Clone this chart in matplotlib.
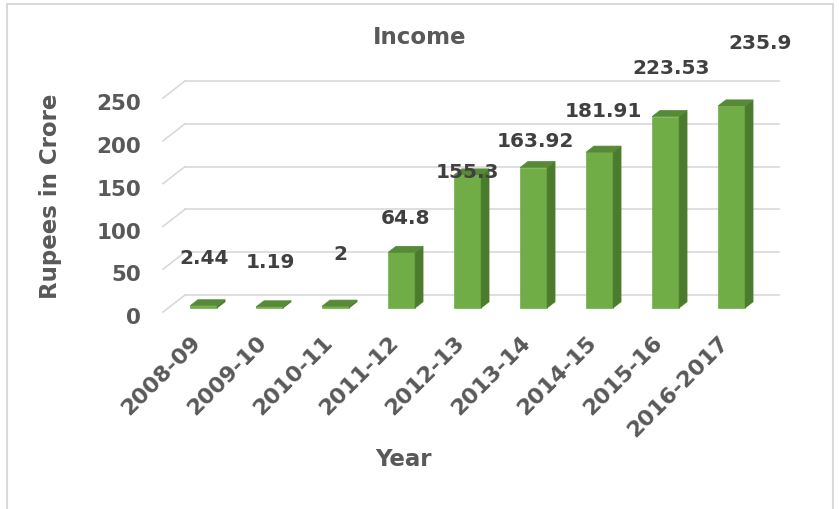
import matplotlib
matplotlib.use("Agg")
import matplotlib.pyplot as plt
from matplotlib.patches import Polygon, Rectangle

# =====================================================
# DATA
# =====================================================

years = [
    "2008-09", "2009-10", "2010-11", "2011-12", "2012-13",
    "2013-14", "2014-15", "2015-16", "2016-2017"
]
income = [2.44, 1.19, 2, 64.8, 155.3, 163.92, 181.91, 223.53, 235.9]
label_text = ["2.44", "1.19", "2", "64.8", "155.3", "163.92", "181.91", "223.53", "235.9"]
y_ticks = [0, 50, 100, 150, 200, 250]

# label placement (offsets from bar top, x in categories, y in value units)
label_dx = [0.13, 0.13, 0.19, 0.17, 0.11, 0.14, 0.17, 0.2, 0.55]
label_dy = [61, 58, 66, 46, 9, 36, 53, 62, 79]

# =====================================================
# STYLE
# =====================================================

TEXT = "#595959"
GRID = "#d9d9d9"
FRONT = "#70ad47"
SIDE = "#4b7b2d"
TOP = "#568a36"

BAR_W = 0.41
DEPTH_X = 22 / 66      # full floor depth in category units
DEPTH_Y = 17 / 0.856   # full floor depth in value units
D0, D1 = 0.24, 0.60    # bar depth start / end as a fraction of floor depth

plt.rcParams["font.family"] = ["DejaVu Sans"]
plt.rcParams["font.weight"] = "bold"

fig = plt.figure(figsize=(8.39, 5.10), dpi=100)
ax = fig.add_axes([163 / 839, (510 - 313) / 510, 594 / 839, 214 / 510])
ax.set_xlim(-0.5, len(years) - 0.5)
ax.set_ylim(0, 250)
ax.axis("off")

# outer chart border
fig.patches.append(Rectangle(
    (7 / 839, -0.05), 826 / 839, 0.05 + 505 / 510,
    transform=fig.transFigure, fill=False, edgecolor=GRID, linewidth=1.5
))

# =====================================================
# GRIDLINES (back wall + left wall diagonals)
# =====================================================

x0, x1 = -0.5, len(years) - 0.5
for v in y_ticks:
    ax.plot([x0 + DEPTH_X, x1 + DEPTH_X], [v + DEPTH_Y, v + DEPTH_Y],
            color=GRID, linewidth=1.2, clip_on=False, zorder=1)
    ax.plot([x0, x0 + DEPTH_X], [v, v + DEPTH_Y],
            color=GRID, linewidth=1.2, clip_on=False, zorder=1)
    ax.text(x0 - 0.33, v - 6, str(v), ha="right", va="center",
            fontsize=15.5, color=TEXT, fontweight="bold")

# =====================================================
# 3D-LOOKING BARS
# =====================================================

for i, v in enumerate(income):
    fx = DEPTH_X * D0
    fy = DEPTH_Y * D0
    bx = DEPTH_X * D1
    by = DEPTH_Y * D1
    left = i - BAR_W / 2 + fx + 0.035
    right = left + BAR_W

    front = Polygon([(left, fy), (right, fy), (right, v + fy), (left, v + fy)],
                    closed=True, facecolor=FRONT, edgecolor=FRONT,
                    linewidth=0.5, clip_on=False, zorder=3)
    side = Polygon([(right, fy), (right + bx - fx, by),
                    (right + bx - fx, v + by), (right, v + fy)],
                   closed=True, facecolor=SIDE, edgecolor=SIDE,
                   linewidth=0.5, clip_on=False, zorder=3)
    top = Polygon([(left, v + fy), (right, v + fy),
                   (right + bx - fx, v + by), (left + bx - fx, v + by)],
                  closed=True, facecolor=TOP, edgecolor=TOP,
                  linewidth=0.5, clip_on=False, zorder=4)
    ax.add_patch(front)
    ax.add_patch(side)
    ax.add_patch(top)

    ax.text(i + label_dx[i], v + label_dy[i], label_text[i],
            ha="center", va="center", fontsize=14.5, color="#404040",
            fontweight="bold", zorder=5)

    ax.text(i + 0.02, -31, years[i], rotation=45, rotation_mode="anchor",
            ha="right", va="center", fontsize=16, color=TEXT,
            fontweight="bold")

# =====================================================
# TITLES
# =====================================================

fig.text(420 / 839, 1 - 37 / 510, "Income", ha="center", va="center",
         fontsize=16.5, color=TEXT, fontweight="bold")
fig.text(51 / 839, 1 - 196 / 510, "Rupees in Crore", rotation=90,
         ha="center", va="center", fontsize=16.5, color=TEXT, fontweight="bold")
fig.text(403 / 839, 1 - 460 / 510, "Year", ha="center", va="center",
         fontsize=16.5, color=TEXT, fontweight="bold")

fig.savefig("out.png", dpi=100, facecolor="white")
